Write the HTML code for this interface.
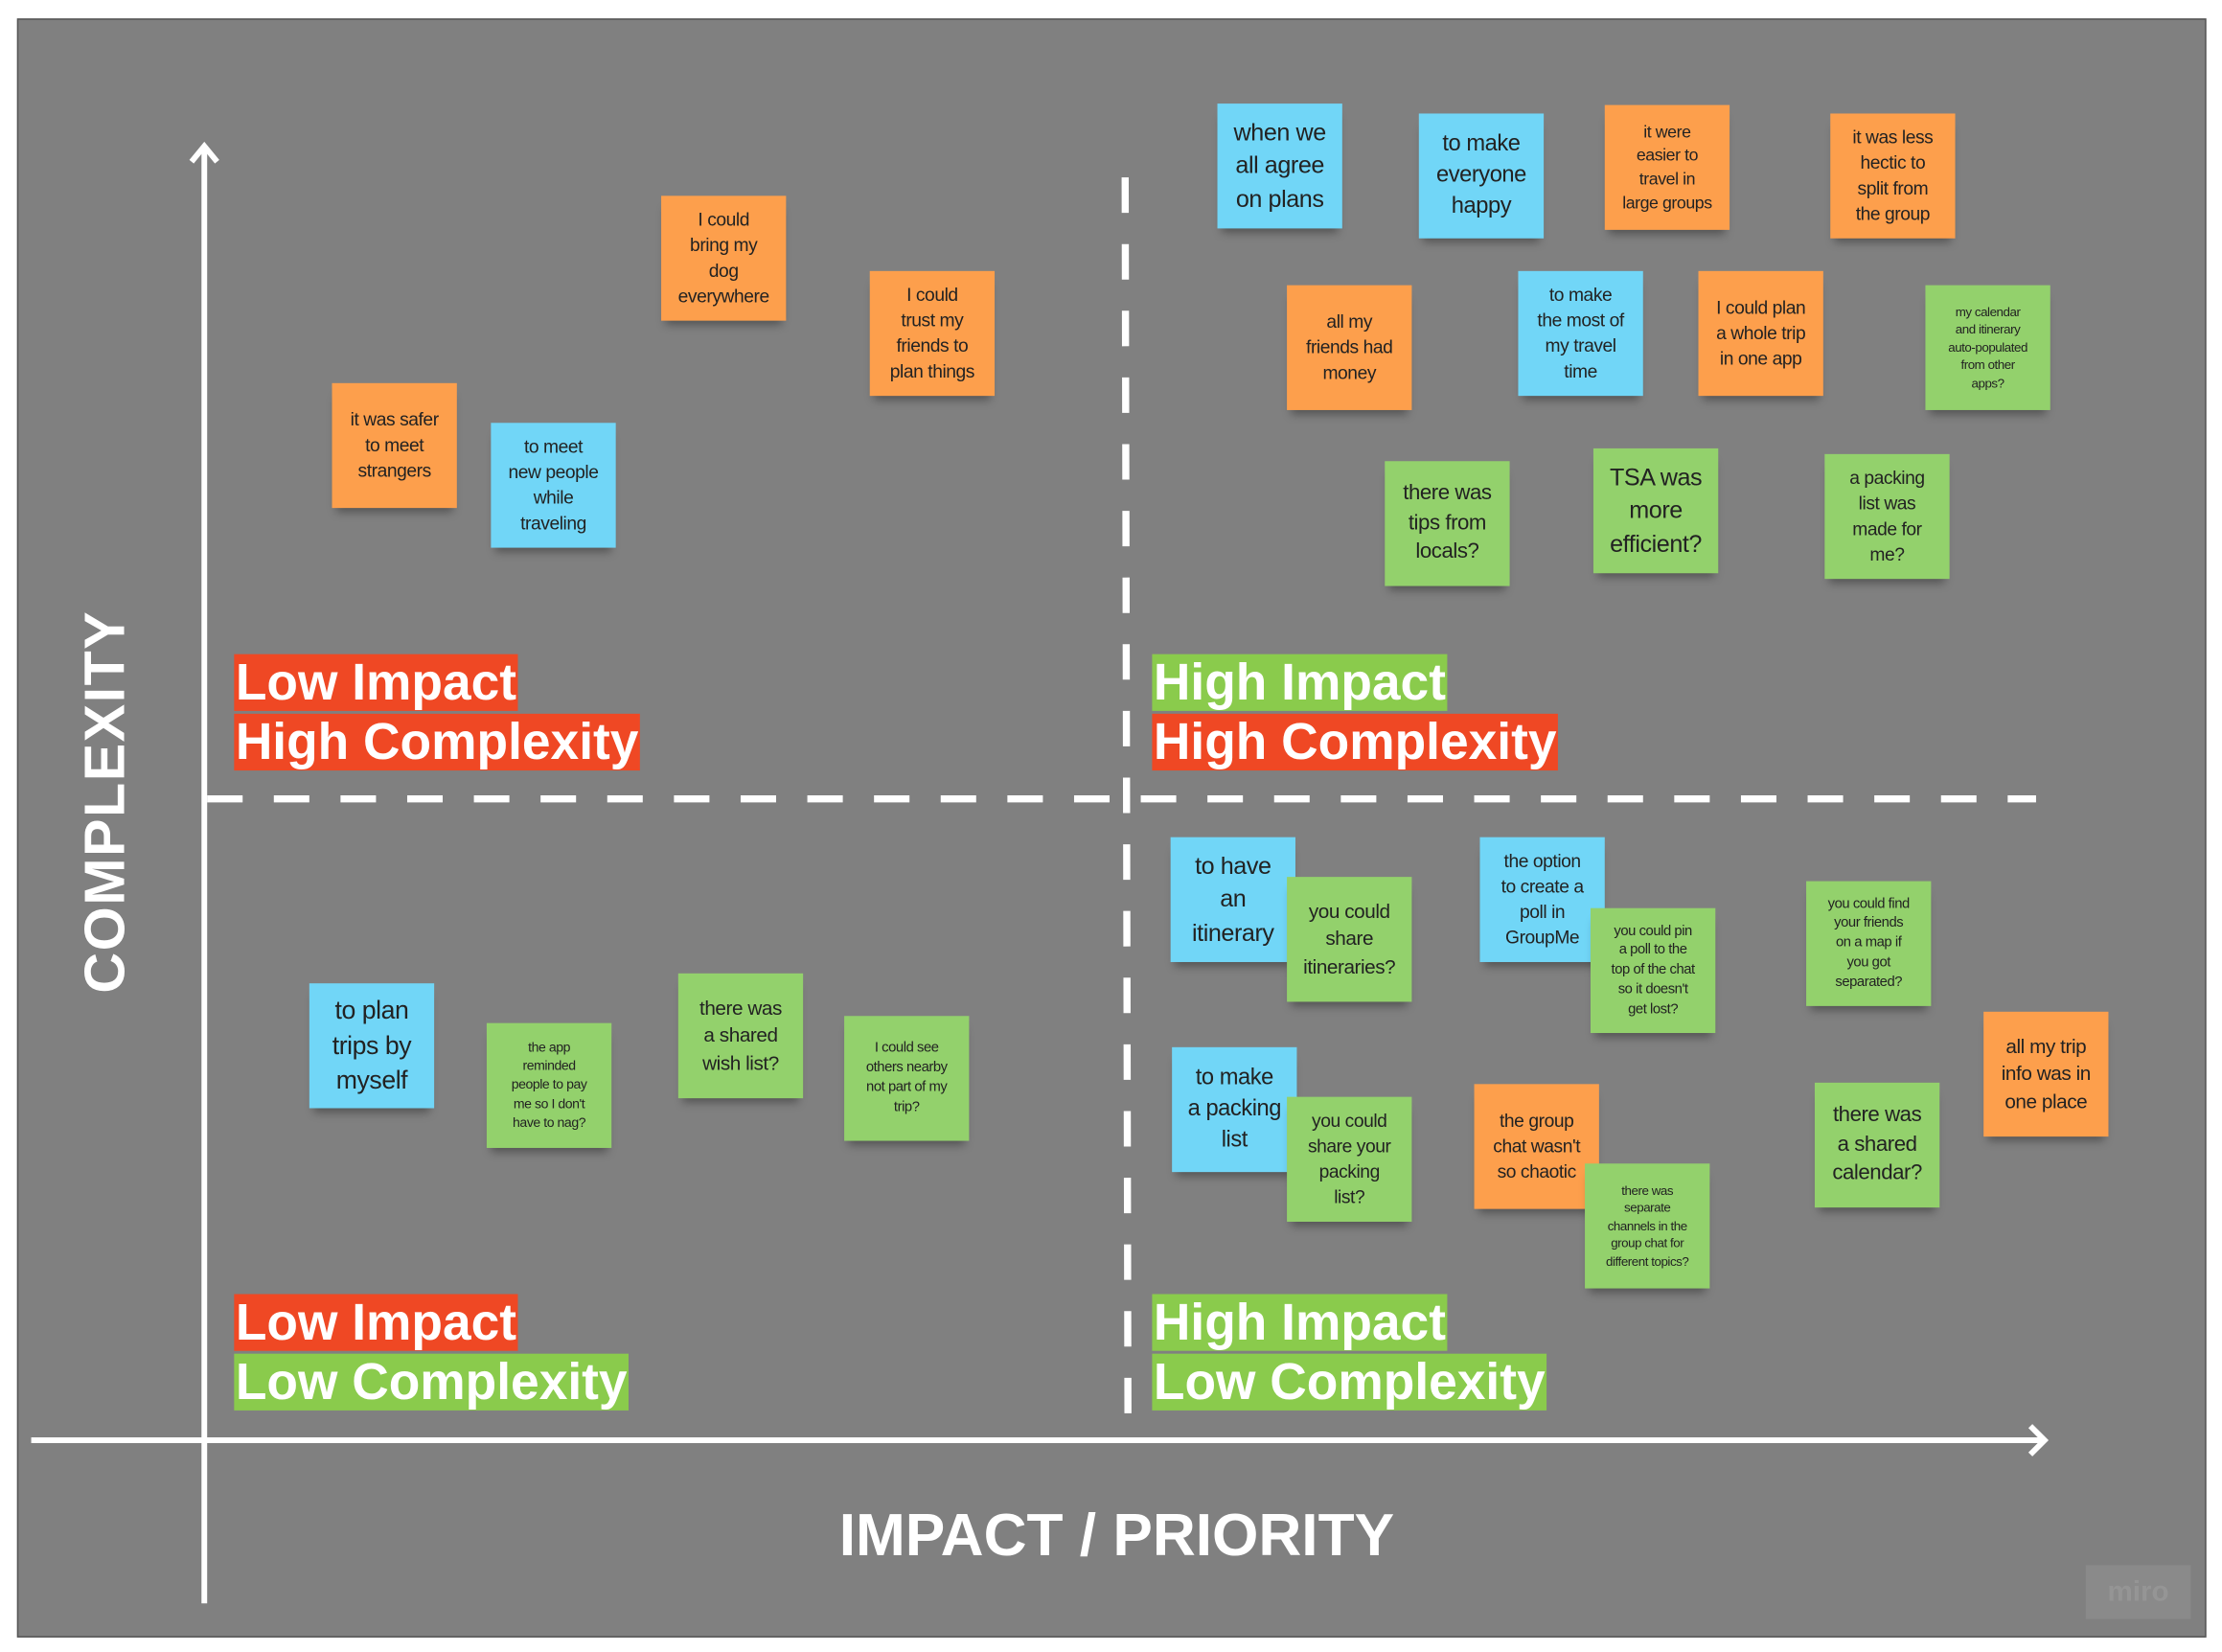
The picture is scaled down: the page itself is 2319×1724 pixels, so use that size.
<!DOCTYPE html>
<html><head><meta charset="utf-8"><style>
html,body{margin:0;padding:0;background:#fff;width:2319px;height:1724px;overflow:hidden}
#w{position:absolute;left:0;top:0;width:1566px;height:1164px;transform:scale(1.4808);transform-origin:0 0;font-family:"Liberation Sans",sans-serif}
#board{position:absolute;left:12px;top:13px;width:1541px;height:1139px;background:#808080;border:1px solid #555}
.s{position:absolute;width:88px;height:88px;display:flex;align-items:center;justify-content:center;text-align:center;color:#222;box-shadow:0 6px 6px -3px rgba(0,0,0,.35);line-height:1.38;box-sizing:border-box;padding:2px;white-space:nowrap;letter-spacing:-0.3px;overflow:hidden}
.o{background:#fd9f4c}.b{background:#71d6f7}.g{background:#93d16c}
.lab{position:absolute;font-weight:bold;font-size:36px;color:#fff;line-height:40px}
.lab span{display:inline-block;padding:0 1px;margin-bottom:2px}
.r{background:#ef4824}.gr{background:#8acb4c}
</style></head><body><div id="w">
<div id="board"></div>
<svg width="1566" height="1164" style="position:absolute;left:0;top:0">
<g stroke="#fff" stroke-width="4" fill="none">
<line x1="144" y1="106" x2="144" y2="1130"/>
<polyline points="135,114 144,103 153,114"/>
<line x1="22" y1="1015" x2="1440" y2="1015"/>
<polyline points="1431,1005 1441,1015 1431,1025"/>
</g>
<line x1="146" y1="563" x2="1435" y2="563" stroke="#fff" stroke-width="5" stroke-dasharray="25,22"/>
<line x1="793" y1="125" x2="795" y2="1012" stroke="#fff" stroke-width="5" stroke-dasharray="25,22"/>
</svg>
<div style="position:absolute;left:75px;top:565px;transform:translate(-50%,-50%) rotate(-90deg);font-weight:bold;font-size:40px;color:#fff;white-space:nowrap;letter-spacing:1px">COMPLEXITY</div>
<div style="position:absolute;left:787px;top:1082px;transform:translate(-50%,-50%);font-weight:bold;font-size:42px;color:#fff;white-space:nowrap">IMPACT / PRIORITY</div>
<div class="lab" style="left:165px;top:461px"><span class="r">Low Impact</span><br><span class="r">High Complexity</span></div>
<div class="lab" style="left:812px;top:461px"><span class="gr">High Impact</span><br><span class="r">High Complexity</span></div>
<div class="lab" style="left:165px;top:912px"><span class="r">Low Impact</span><br><span class="gr">Low Complexity</span></div>
<div class="lab" style="left:812px;top:912px"><span class="gr">High Impact</span><br><span class="gr">Low Complexity</span></div>
<div style="position:absolute;left:1470px;top:1103px;width:74px;height:38px;background:#8a8a8a;color:#959595;font-size:20px;font-weight:bold;display:flex;align-items:center;justify-content:center">miro</div>

<div class="s o" style="left:466px;top:138px;font-size:13px">I could<br>bring my<br>dog<br>everywhere</div>
<div class="s o" style="left:613px;top:191px;font-size:13px">I could<br>trust my<br>friends to<br>plan things</div>
<div class="s o" style="left:234px;top:270px;font-size:13px">it was safer<br>to meet<br>strangers</div>
<div class="s b" style="left:346px;top:298px;font-size:13px">to meet<br>new people<br>while<br>traveling</div>
<div class="s b" style="left:858px;top:73px;font-size:17px">when we<br>all agree<br>on plans</div>
<div class="s b" style="left:1000px;top:80px;font-size:16px">to make<br>everyone<br>happy</div>
<div class="s o" style="left:1131px;top:74px;font-size:12px">it were<br>easier to<br>travel in<br>large groups</div>
<div class="s o" style="left:1290px;top:80px;font-size:13px">it was less<br>hectic to<br>split from<br>the group</div>
<div class="s o" style="left:907px;top:201px;font-size:13px">all my<br>friends had<br>money</div>
<div class="s b" style="left:1070px;top:191px;font-size:13px">to make<br>the most of<br>my travel<br>time</div>
<div class="s o" style="left:1197px;top:191px;font-size:13px">I could plan<br>a whole trip<br>in one app</div>
<div class="s g" style="left:1357px;top:201px;font-size:9px">my calendar<br>and itinerary<br>auto-populated<br>from other<br>apps?</div>
<div class="s g" style="left:976px;top:325px;font-size:15px">there was<br>tips from<br>locals?</div>
<div class="s g" style="left:1123px;top:316px;font-size:17px">TSA was<br>more<br>efficient?</div>
<div class="s g" style="left:1286px;top:320px;font-size:13px">a packing<br>list was<br>made for<br>me?</div>
<div class="s b" style="left:825px;top:590px;font-size:17px">to have<br>an<br>itinerary</div>
<div class="s g" style="left:907px;top:618px;font-size:14px">you could<br>share<br>itineraries?</div>
<div class="s b" style="left:1043px;top:590px;font-size:13px">the option<br>to create a<br>poll in<br>GroupMe</div>
<div class="s g" style="left:1121px;top:640px;font-size:10px">you could pin<br>a poll to the<br>top of the chat<br>so it doesn't<br>get lost?</div>
<div class="s g" style="left:1273px;top:621px;font-size:10px">you could find<br>your friends<br>on a map if<br>you got<br>separated?</div>
<div class="s o" style="left:1398px;top:713px;font-size:14px">all my trip<br>info was in<br>one place</div>
<div class="s b" style="left:826px;top:738px;font-size:16px">to make<br>a packing<br>list</div>
<div class="s g" style="left:907px;top:773px;font-size:13px">you could<br>share your<br>packing<br>list?</div>
<div class="s o" style="left:1039px;top:764px;font-size:13px">the group<br>chat wasn't<br>so chaotic</div>
<div class="s g" style="left:1117px;top:820px;font-size:9px">there was<br>separate<br>channels in the<br>group chat for<br>different topics?</div>
<div class="s g" style="left:1279px;top:763px;font-size:15px">there was<br>a shared<br>calendar?</div>
<div class="s b" style="left:218px;top:693px;font-size:18px">to plan<br>trips by<br>myself</div>
<div class="s g" style="left:343px;top:721px;font-size:9.5px">the app<br>reminded<br>people to pay<br>me so I don't<br>have to nag?</div>
<div class="s g" style="left:478px;top:686px;font-size:14px">there was<br>a shared<br>wish list?</div>
<div class="s g" style="left:595px;top:716px;font-size:10px">I could see<br>others nearby<br>not part of my<br>trip?</div>
</div></body></html>
